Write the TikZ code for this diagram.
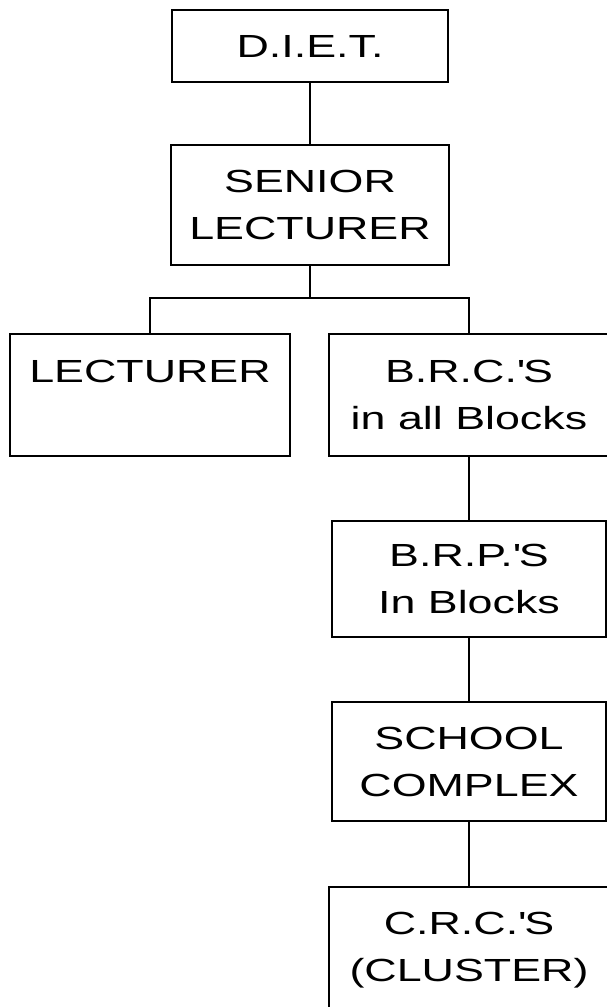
\documentclass[tikz,border=0pt]{standalone}
\usepackage{fontspec}
\setmainfont[FakeStretch=1.4]{Liberation Sans}
\tikzset{
  orgbox/.style={draw=black, line width=1.3pt, rectangle, inner sep=0pt,
    align=center, font=\fontsize{32}{47}\selectfont, text=black},
  link/.style={draw=black, line width=1.3pt}
}
\begin{document}
\begin{tikzpicture}[x=1pt,y=-1pt]
\fill[white] (0,0) rectangle (607,1007);
\clip (0,0) rectangle (607,1007);
\node[orgbox, minimum width=276pt, minimum height=72pt] (diet) at (310,46) {D.I.E.T.};
\node[orgbox, minimum width=278pt, minimum height=120pt] (senior) at (310,205) {SENIOR\\LECTURER};
\node[orgbox, minimum width=280pt, minimum height=122pt] (lect) at (150,395) {LECTURER\\\phantom{L}};
\node[orgbox, minimum width=280pt, minimum height=122pt] (brc) at (469,395) {B.R.C.\textquotesingle S\\in all Blocks};
\node[orgbox, minimum width=274pt, minimum height=116pt] (brp) at (469,579) {B.R.P.\textquotesingle S\\In Blocks};
\node[orgbox, minimum width=274pt, minimum height=119pt] (school) at (469,761.5) {SCHOOL\\COMPLEX};
\node[orgbox, minimum width=280pt, minimum height=126pt] (crc) at (469,950) {C.R.C.\textquotesingle S\\(CLUSTER)};
\coordinate (bar) at (310,298);
\draw[link] (diet.south) -- (senior.north);
\draw[link] (senior.south) -- (bar);
\draw[link] (bar) -| (lect.north);
\draw[link] (bar) -| (brc.north);
\draw[link] (brc.south) -- (brp.north);
\draw[link] (brp.south) -- (school.north);
\draw[link] (school.south) -- (crc.north);
\end{tikzpicture}
\end{document}
